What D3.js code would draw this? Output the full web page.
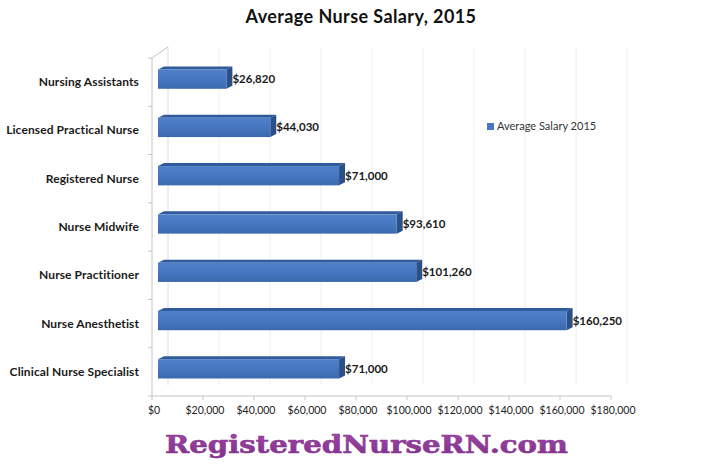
<!DOCTYPE html>
<html><head><meta charset="utf-8">
<script src="https://cdn.jsdelivr.net/npm/d3@7/dist/d3.min.js"></script>
<style>
html,body{margin:0;padding:0;background:#fff;}
svg{display:block;}
</style></head>
<body><svg id="c" width="720" height="468"></svg>
<script>
const categories = ["Nursing Assistants","Licensed Practical Nurse","Registered Nurse","Nurse Midwife","Nurse Practitioner","Nurse Anesthetist","Clinical Nurse Specialist"];
const salaries = [26820, 44030, 71000, 93610, 101260, 160250, 71000];
const valueLabels = ["$26,820","$44,030","$71,000","$93,610","$101,260","$160,250","$71,000"];
const tickValues = [0,20000,40000,60000,80000,100000,120000,140000,160000,180000];
const seriesName = "Average Salary 2015";
const title = "Average Nurse Salary, 2015";
const watermark = "RegisteredNurseRN.com";

const svg = d3.select("#c");
const font = "Lato, 'Open Sans', sans-serif";

// front plane geometry and depth
const x = d3.scaleLinear().domain([0,180000]).range([152,611]);
const y = d3.scaleBand().domain(categories).range([58,396]).paddingInner(0).paddingOuter(0);
const D = {dx:16, dy:-11};

// back wall gridlines
svg.append("g").selectAll("line").data(tickValues).join("line")
  .attr("x1", d=>x(d)+D.dx).attr("x2", d=>x(d)+D.dx)
  .attr("y1", 58+D.dy).attr("y2", 396+D.dy)
  .attr("stroke", d=> d===0 ? "#dcdcdc" : "#eeeeee").attr("stroke-width",1);

// left axis (front) + top diagonal
const ax = svg.append("g").attr("stroke","#c4c4c4").attr("fill","none");
ax.append("line").attr("x1",x(0)).attr("x2",x(0)).attr("y1",58).attr("y2",396);
ax.append("line").attr("x1",x(0)).attr("y1",58).attr("x2",x(0)+D.dx).attr("y2",58+D.dy);
// category boundary ticks
const bounds = categories.map(c=>y(c)).concat([396]);
ax.selectAll("line.t").data(bounds).join("line").attr("class","t")
  .attr("x1",x(0)-4).attr("x2",x(0)).attr("y1",d=>d).attr("y2",d=>d);
// bottom axis
ax.append("line").attr("x1",x(0)).attr("x2",x(180000)).attr("y1",396).attr("y2",396);
ax.selectAll("line.b").data(tickValues).join("line").attr("class","b")
  .attr("x1",d=>x(d)).attr("x2",d=>x(d)).attr("y1",396).attr("y2",400);

// x tick labels
svg.append("g").selectAll("text").data(tickValues).join("text")
  .attr("x", d=>x(d)+2).attr("y", 414)
  .attr("text-anchor","middle")
  .attr("font-family",font).attr("font-size",10.5).attr("fill","#222")
  .text(d=> "$" + d3.format(",")(d));

// category labels
svg.append("g").selectAll("text").data(categories).join("text")
  .attr("x", 139).attr("y", d=>y(d)+y.bandwidth()/2+4)
  .attr("text-anchor","end")
  .attr("font-family",font).attr("font-weight","bold").attr("font-size",12).attr("fill","#1a1a1a")
  .attr("letter-spacing",0.1)
  .text(d=>d);

// 3D bars
const bh = y.bandwidth()*0.4;
const f = {dx:6, dy:-3};   // front face offset
const b = {dx:12, dy:-6};  // back face offset
const defs = svg.append("defs");
const g1 = defs.append("linearGradient").attr("id","fg").attr("x1",0).attr("y1",0).attr("x2",0).attr("y2",1);
g1.append("stop").attr("offset","0").attr("stop-color","#4f80c8");
g1.append("stop").attr("offset","0.5").attr("stop-color","#4677c0");
g1.append("stop").attr("offset","1").attr("stop-color","#3c69ad");

const bars = svg.append("g").selectAll("g").data(categories.map((c,i)=>({c, v:salaries[i], l:valueLabels[i]}))).join("g");
bars.each(function(d){
  const g = d3.select(this);
  const yc = y(d.c)+y.bandwidth()/2;
  const y0 = yc - bh/2, y1 = yc + bh/2;
  const xa = x(0), xb = x(d.v);
  // top face
  g.append("path").attr("d",
    `M${xa+f.dx},${y0+f.dy} L${xb+f.dx},${y0+f.dy} L${xb+b.dx},${y0+b.dy} L${xa+b.dx},${y0+b.dy} Z`)
    .attr("fill","#2f5a9c");
  // side face
  g.append("path").attr("d",
    `M${xb+f.dx},${y0+f.dy} L${xb+b.dx},${y0+b.dy} L${xb+b.dx},${y1+b.dy} L${xb+f.dx},${y1+f.dy} Z`)
    .attr("fill","#2b4f88");
  // front face
  g.append("rect").attr("x",xa+f.dx).attr("y",y0+f.dy).attr("width",xb-xa).attr("height",bh)
    .attr("fill","url(#fg)");
  // value label
  g.append("text").attr("x", xb+b.dx).attr("y", yc+f.dy+4)
    .attr("font-family",font).attr("font-weight","bold").attr("font-size",11.5).attr("fill","#1a1a1a")
    .text(d.l);
});

// title
svg.append("text").attr("x",361).attr("y",23).attr("text-anchor","middle")
  .attr("font-family",font).attr("font-weight","bold").attr("font-size",18).attr("fill","#111")
  .attr("letter-spacing",0.4)
  .text(title);

// legend
svg.append("rect").attr("x",487).attr("y",123).attr("width",7).attr("height",7).attr("fill","#4677c0");
svg.append("text").attr("x",497).attr("y",130)
  .attr("font-family",font).attr("font-size",11).attr("fill","#333").text(seriesName);

// watermark
const wg = defs.append("linearGradient").attr("id","wg").attr("x1",0).attr("y1",0).attr("x2",0).attr("y2",1);
wg.append("stop").attr("offset","0").attr("stop-color","#a04aa8");
wg.append("stop").attr("offset","1").attr("stop-color","#7d2f8a");
svg.append("text").attr("x",165).attr("y",453)
  .attr("font-family","'DejaVu Serif', serif").attr("font-weight","bold").attr("font-size",24)
  .attr("textLength",403).attr("lengthAdjust","spacingAndGlyphs")
  .attr("fill","url(#wg)").attr("stroke","#8a3592").attr("stroke-width",0.6)
  .text(watermark);
</script></body></html>
